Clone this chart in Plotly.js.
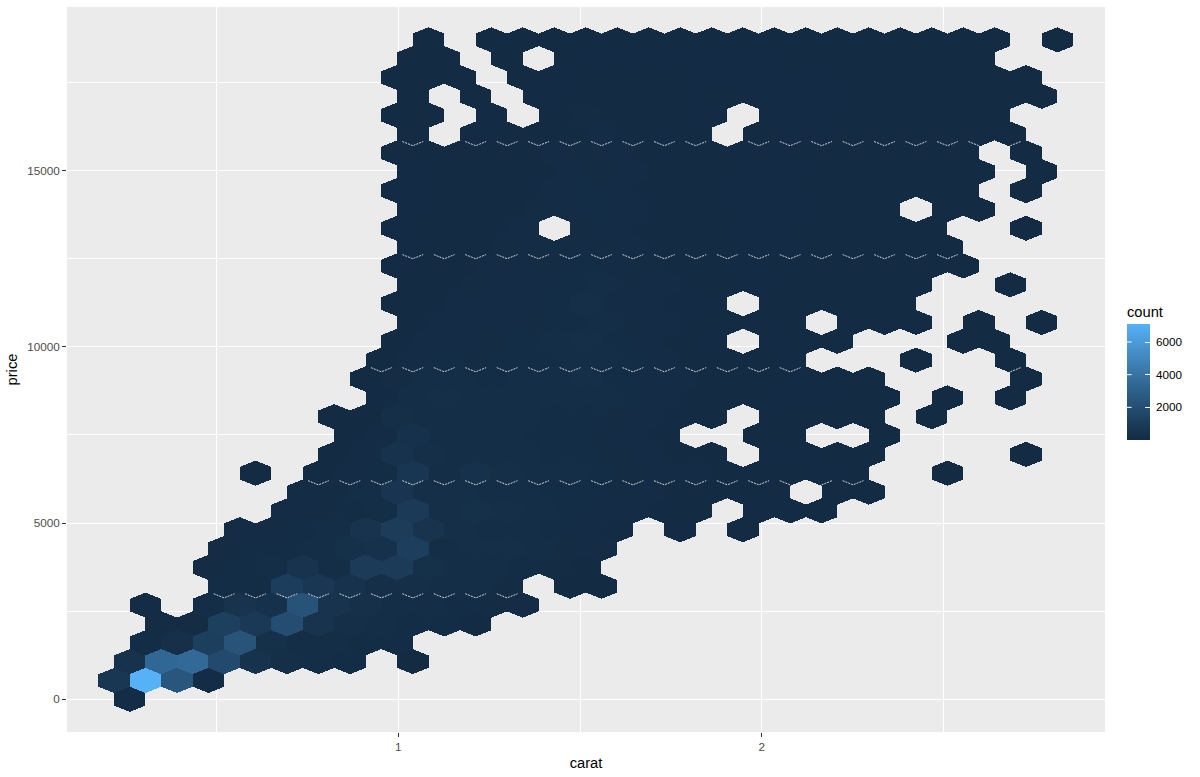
<!DOCTYPE html>
<html>
<head>
<meta charset="utf-8">
<script src="https://cdn.plot.ly/plotly-3.0.1.min.js"></script>
<style>
html,body{margin:0;padding:0;background:#fff}
#chart{width:1200px;height:777px}
.js-fill{shape-rendering:crispEdges}
</style>
</head>
<body>
<div id="chart"></div>
<script>
// Hexagonal bin grid
const caratStart = 0.2177, caratStep = 0.08654, priceStep = 534.4;
// Rows run from price 0 upward; even rows are shifted half a bin to the right.
const rowStart = [0,0,0,1,1,1,3,3,3,4,5,6,4,7,7,7,8,8,8,9,9,9,9,9,9,9,9,9,9,9,9,9,9,9,9,10];
const rowCounts = [
 [120],
 [700,7100,2450,80],
 [450,3400,3500,1800,400,240,170,150,0,60],
 [120,310,1200,2350,280,210,160,140,120],
 [110,100,1250,850,2000,480,270,170,150,120,60],
 [90,0,170,470,380,2300,480,300,200,180,140,100,80],
 [120,150,1100,720,400,270,220,190,170,110,0,50,40],
 [100,150,180,480,170,950,980,280,210,190,150,100,60],
 [100,130,150,180,280,390,1150,210,260,220,160,110,70],
 [90,110,150,210,470,1000,460,260,210,160,130,90,60,0,30,0,20],
 [80,110,140,190,900,260,290,220,180,140,110,80,60,40,0,30,25,15],
 [70,100,160,560,220,240,210,160,140,120,100,70,60,50,40,30,0,15,10],
 [10,0,60,80,120,640,160,350,260,190,160,130,110,90,70,60,45,35,25,15,0,0,5],
 [50,90,430,230,200,180,160,140,120,100,80,60,45,0,30,25,15,10,0,0,0,0,3],
 [40,70,340,200,180,170,140,120,110,90,60,0,0,20,15,0,0,5],
 [20,60,230,210,190,170,160,140,130,100,70,40,20,0,20,20,15,10,0,3],
 [30,180,230,200,190,160,170,170,120,80,60,50,40,30,25,15,10,0,3,0,4],
 [15,110,170,160,150,170,190,260,150,90,70,55,45,35,25,18,10,0,0,0,0,3],
 [10,90,120,110,120,130,160,190,130,80,60,50,40,25,0,0,0,8,0,0,4],
 [50,80,90,100,120,160,240,120,70,50,30,0,25,20,10,0,0,0,4,3],
 [40,70,80,90,100,130,180,110,70,50,35,25,20,0,10,8,5,0,4,0,3],
 [40,60,70,80,90,130,250,110,70,50,30,0,20,15,10,8,5],
 [35,55,65,75,85,120,180,100,70,50,35,25,20,15,10,8,5,0,0,3],
 [30,50,60,70,80,100,130,90,65,50,35,25,20,15,12,10,8,5,3],
 [30,45,55,65,75,90,110,85,60,45,35,30,25,18,12,10,6,4],
 [25,45,50,60,70,0,110,80,60,45,35,30,25,18,12,8,6,4,0,0,3],
 [25,40,50,55,65,80,120,75,55,45,35,30,25,18,12,8,0,4,3],
 [25,40,45,55,60,80,150,75,55,45,35,30,25,18,14,10,8,5,4,0,2],
 [25,35,45,50,60,75,110,70,55,45,35,30,25,20,14,10,8,5,3,0,2],
 [20,35,40,50,55,70,100,70,55,45,35,30,25,20,14,10,8,5,3,0,2],
 [15,0,30,35,45,55,80,60,50,40,0,35,30,25,20,15,10,8,5,3],
 [15,20,0,25,0,40,65,55,50,40,30,0,30,25,20,15,12,8,5,3],
 [12,0,15,0,30,35,50,50,45,40,35,30,30,25,20,15,12,8,6,4,2],
 [10,15,12,0,20,30,35,40,40,35,30,30,25,25,20,15,12,8,5,4,2],
 [5,10,0,8,0,20,30,30,30,30,25,25,20,20,15,12,10,6,3],
 [4,0,5,8,10,12,14,14,12,12,10,10,8,8,6,5,4,3,2,0,1]
];
const countMin = 1, countMax = 7100;
const colourLow = '#132B43', colourHigh = '#56B1F7';
const xTicks = [1, 2], xMinor = [0.5, 1.5, 2.5];
const yTicks = [0, 5000, 10000, 15000], yMinor = [2500, 7500, 12500, 17500];
const legendTicks = [2000, 4000, 6000];
const sliverRows = [6, 12, 18, 24, 30];

// ggplot-style gradient, interpolated in Lab
function toLab(hex){
  let c=[1,3,5].map(i=>parseInt(hex.substr(i,2),16)/255).map(v=>v>0.04045?Math.pow((v+0.055)/1.055,2.4):v/12.92);
  let X=(0.4124*c[0]+0.3576*c[1]+0.1805*c[2])/0.95047,Y=0.2126*c[0]+0.7152*c[1]+0.0722*c[2],Z=(0.0193*c[0]+0.1192*c[1]+0.9505*c[2])/1.08883;
  let f=t=>t>0.008856?Math.cbrt(t):7.787*t+16/116;
  return [116*f(Y)-16,500*(f(X)-f(Y)),200*(f(Y)-f(Z))];
}
function fromLab(l){
  let y=(l[0]+16)/116,x=l[1]/500+y,z=y-l[2]/200;
  let g=t=>t*t*t>0.008856?t*t*t:(t-16/116)/7.787;
  let X=g(x)*0.95047,Y=g(y),Z=g(z)*1.08883;
  let rgb=[3.2406*X-1.5372*Y-0.4986*Z,-0.9689*X+1.8758*Y+0.0415*Z,0.0557*X-0.204*Y+1.057*Z];
  rgb=rgb.map(v=>v>0.0031308?1.055*Math.pow(v,1/2.4)-0.055:12.92*v).map(v=>Math.round(255*Math.min(1,Math.max(0,v))));
  return 'rgb('+rgb.join(',')+')';
}
const labLow=toLab(colourLow), labHigh=toLab(colourHigh);
const ramp=t=>fromLab(labLow.map((v,i)=>v+(labHigh[i]-v)*t));
const colourFor=n=>ramp((n-countMin)/(countMax-countMin));
const colorscale=[];
for(let i=0;i<=20;i++) colorscale.push([i/20,ramp(i/20)]);

const cx=(r,k)=>caratStart+caratStep*(k+(r%2===0?0.5:0));
const cy=r=>priceStep*r;
const has=(r,k)=>{
  if(r<0||r>=rowCounts.length) return false;
  const v=rowCounts[r][k-rowStart[r]];
  return !!v;
};

// group hexagons by count so each colour is one filled trace
const groups=new Map(), cxs=[], cys=[], ccs=[];
rowCounts.forEach((vals,r)=>vals.forEach((n,i)=>{
  if(!n) return;
  const k=rowStart[r]+i, x=cx(r,k), y=cy(r), hw=caratStep/2, a=priceStep/3;
  if(!groups.has(n)) groups.set(n,{x:[],y:[]});
  const g=groups.get(n);
  g.x.push(x-hw,x-hw,x,x+hw,x+hw,x,x-hw,null);
  g.y.push(y-a,y+a,y+2*a,y+a,y-a,y-2*a,y-a,null);
  cxs.push(x);cys.push(y);ccs.push(n);
}));
const traces=[];
groups.forEach((g,n)=>traces.push({type:'scatter',mode:'lines',x:g.x,y:g.y,fill:'toself',fillcolor:colourFor(n),line:{width:0,color:colourFor(n)},hoverinfo:'skip',showlegend:false}));

// thin light seams along the lower edges of every sixth row
const sx=[],sy=[];
sliverRows.forEach(r=>{
  rowCounts[r].forEach((n,i)=>{
    if(!n) return;
    const k=rowStart[r]+i, x=cx(r,k), y=cy(r), hw=caratStep/2, a=priceStep/3, t=0.66;
    const by=y-2*a+0.15*a;
    if(has(r-1,k)){ sx.push(x-hw*t,x); sy.push(by+a*t,by); if(!has(r-1,k+1)){sx.push(null);sy.push(null);} }
    if(has(r-1,k+1)){ if(!has(r-1,k)){sx.push(x);sy.push(by);} sx.push(x+hw*t); sy.push(by+a*t); }
    sx.push(null);sy.push(null);
  });
});
traces.push({type:'scatter',mode:'lines',x:sx,y:sy,line:{color:'#ffffff',width:0.8,dash:'2px,1px'},hoverinfo:'skip',showlegend:false});

// bin centres carry the colour scale and its legend
const fontFamily='Liberation Sans, Arial, sans-serif';
traces.push({type:'scatter',mode:'markers',x:cxs,y:cys,showlegend:false,
  marker:{size:1,color:ccs,cmin:countMin,cmax:countMax,colorscale:colorscale,line:{width:0},
    colorbar:{x:1.0212,xanchor:'left',xpad:0,y:0.4972,yanchor:'middle',ypad:0,len:137,lenmode:'pixels',thickness:23,
      outlinewidth:0,borderwidth:0,tickmode:'array',tickvals:legendTicks,ticktext:legendTicks.map(v=>'\u00A0'+v),
      ticks:'inside',ticklen:4.6,tickwidth:1,tickcolor:'#ffffff',
      tickfont:{family:fontFamily,size:11.7,color:'#000000'},
      title:{text:'count',side:'top',font:{family:fontFamily,size:14.7,color:'#000000'}}}},
  hovertemplate:'carat %{x:.2f}<br>price %{y:.0f}<br>count %{marker.color}<extra></extra>'});

// ggplot draws legend ticks on both sides of the bar: add the left-hand ones
const plotW=1200-67-95, plotH=777-7-45;
const barTop=324, barBottom=440;
const legendShapes=legendTicks.map(v=>{
  const py=barBottom-(v-countMin)/(countMax-countMin)*(barBottom-barTop);
  const yp=1-(py-7)/plotH;
  return {type:'line',xref:'paper',yref:'paper',x0:(1127-67)/plotW,x1:(1131.6-67)/plotW,y0:yp,y1:yp,line:{color:'#ffffff',width:1}};
});

const tickFont={family:fontFamily,size:11.7,color:'#4D4D4D'};
const titleFont={family:fontFamily,size:14.7,color:'#000000'};
const layout={
  width:1200,height:777,
  paper_bgcolor:'#FFFFFF',plot_bgcolor:'#EBEBEB',
  margin:{l:67,r:95,t:7,b:45,pad:0,autoexpand:false},
  showlegend:false,
  shapes:legendShapes,
  xaxis:{range:[0.0883,2.9447],tickmode:'array',tickvals:xTicks,ticktext:xTicks.map(String),ticks:'outside',ticklen:4,tickwidth:1,tickcolor:'#333333',
    tickfont:tickFont,showgrid:true,gridcolor:'#FFFFFF',gridwidth:1,zeroline:false,showline:false,
    minor:{tickmode:'array',tickvals:xMinor,showgrid:true,gridcolor:'#FFFFFF',gridwidth:1,ticks:''},
    title:{text:'carat',font:titleFont,standoff:5}},
  yaxis:{range:[-927,19636],tickmode:'array',tickvals:yTicks,ticktext:yTicks.map(String),ticks:'outside',ticklen:4,tickwidth:1,tickcolor:'#333333',
    tickfont:tickFont,showgrid:true,gridcolor:'#FFFFFF',gridwidth:1,zeroline:false,showline:false,
    minor:{tickmode:'array',tickvals:yMinor,showgrid:true,gridcolor:'#FFFFFF',gridwidth:1,ticks:''},
    title:{text:'price',font:titleFont,standoff:5}}
};
Plotly.newPlot('chart',traces,layout,{displayModeBar:false,responsive:false}).then(gd=>{
  // lift the shape layer above the colour bar so the left-hand ticks show
  const above=gd.querySelector('.layer-above'), info=gd.querySelector('.infolayer');
  if(above&&info) info.parentNode.insertBefore(above,info.nextSibling);
});
</script>
</body>
</html>
